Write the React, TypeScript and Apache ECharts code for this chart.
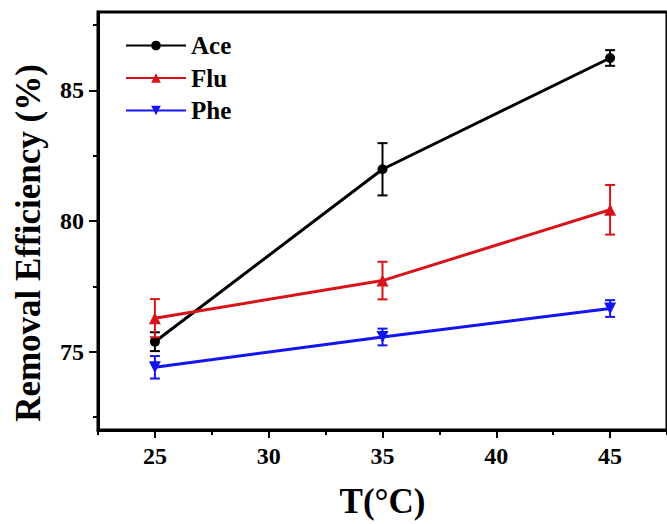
import React, { useEffect, useRef } from "react";
import * as echarts from "echarts";

const temps = [25, 35, 45];
const seriesNames = ["Ace", "Flu", "Phe"];
const aceValues = [75.38, 81.98, 86.24];
const aceErrors = [0.36, 1.0, 0.3];
const fluValues = [76.28, 77.72, 80.43];
const fluErrors = [0.73, 0.72, 0.95];
const pheValues = [74.4, 75.56, 76.65];
const pheErrors = [0.43, 0.32, 0.32];
const xMajorTicks = [25, 30, 35, 40, 45];
const xMinorTicks = [22.5, 27.5, 32.5, 37.5, 42.5, 47.5];
const yMajorTicks = [75, 80, 85];
const yMinorTicks = [72.5, 77.5, 82.5, 87.5];

const colors = ["#000000", "#d7141b", "#1414f0"];
const FONT = "'Liberation Serif', 'Times New Roman', serif";

export default function App() {
  const ref = useRef<HTMLDivElement>(null);
  useEffect(() => {
    if (!ref.current) return;
    const chart = echarts.init(ref.current, null, { renderer: "svg" });
    const values = [aceValues, fluValues, pheValues];
    const errors = [aceErrors, fluErrors, pheErrors];
    const symbols = ["circle", "triangle", "triangle"];
    const rotates = [0, 0, 180];
    const sizes = [10, 12, 12];

    const lineSeries = seriesNames.map((name, i) => ({
      name,
      type: "line",
      xAxisIndex: 0,
      yAxisIndex: 0,
      data: temps.map((t, j) => [t, values[i][j]]),
      symbol: symbols[i],
      symbolRotate: rotates[i],
      symbolSize: sizes[i],
      lineStyle: { color: colors[i], width: 3 },
      itemStyle: { color: colors[i] },
      z: 3,
    }));

    const errSeries = seriesNames.map((name, i) => ({
      name: name + " error",
      type: "custom",
      xAxisIndex: 0,
      yAxisIndex: 0,
      data: temps.map((t, j) => [t, values[i][j] - errors[i][j], values[i][j] + errors[i][j]]),
      encode: { x: 0, y: [1, 2] },
      z: 4,
      renderItem: (params: any, api: any) => {
        const x = api.value(0);
        const lo = api.coord([x, api.value(1)]);
        const hi = api.coord([x, api.value(2)]);
        const hw = 5;
        const style = { stroke: colors[i], lineWidth: 2, fill: "none" };
        return {
          type: "group",
          children: [
            { type: "line", shape: { x1: hi[0], y1: hi[1], x2: lo[0], y2: lo[1] }, style },
            { type: "line", shape: { x1: hi[0] - hw, y1: hi[1], x2: hi[0] + hw, y2: hi[1] }, style },
            { type: "line", shape: { x1: lo[0] - hw, y1: lo[1], x2: lo[0] + hw, y2: lo[1] }, style },
          ],
        };
      },
    }));

    const labelStyle = { fontFamily: FONT, fontWeight: "bold", fontSize: 24, color: "#000" };

    chart.setOption({
      animation: false,
      backgroundColor: "#ffffff",
      grid: {
        left: 98,
        top: 12,
        right: -2,
        bottom: 86,
        show: true,
        borderColor: "#000",
        borderWidth: 3,
        containLabel: false,
      },
      legend: {
        data: seriesNames,
        orient: "vertical",
        left: 125,
        top: 33,
        padding: 0,
        itemWidth: 60,
        itemHeight: 12,
        itemGap: 7.5,
        textStyle: { fontFamily: FONT, fontWeight: "bold", fontSize: 25, color: "#000", lineHeight: 24 },
      },
      xAxis: [
        {
          type: "value",
          min: 22.5,
          max: 47.5,
          interval: 2.5,
          name: "T(°C)",
          nameLocation: "middle",
          nameGap: 54,
          nameTextStyle: { fontFamily: FONT, fontWeight: "bold", fontSize: 35, color: "#000" },
          axisLine: { show: true, lineStyle: { color: "#000", width: 3 } },
          axisTick: { show: true, length: 8, customValues: xMajorTicks, lineStyle: { color: "#000", width: 2 } },
          axisLabel: { ...labelStyle, margin: 14, customValues: xMajorTicks },
          splitLine: { show: false },
        },
        {
          type: "value",
          min: 22.5,
          max: 47.5,
          interval: 2.5,
          position: "bottom",
          axisLine: { show: false },
          axisTick: { show: true, length: 5, customValues: xMinorTicks, lineStyle: { color: "#000", width: 2 } },
          axisLabel: { show: false },
          splitLine: { show: false },
        },
      ],
      yAxis: [
        {
          type: "value",
          min: 72,
          max: 88,
          interval: 1,
          axisLine: { show: true, lineStyle: { color: "#000", width: 3 } },
          axisTick: { show: true, length: 9, customValues: yMajorTicks, lineStyle: { color: "#000", width: 2 } },
          axisLabel: { ...labelStyle, margin: 14, customValues: yMajorTicks },
          splitLine: { show: false },
        },
        {
          type: "value",
          min: 72,
          max: 88,
          interval: 1,
          position: "left",
          axisLine: { show: false },
          axisTick: { show: true, length: 5, customValues: yMinorTicks, lineStyle: { color: "#000", width: 2 } },
          axisLabel: { show: false },
          splitLine: { show: false },
        },
      ],
      graphic: [
        {
          type: "text",
          x: 28,
          y: 243,
          rotation: Math.PI / 2,
          style: {
            text: "Removal Efficiency (%)",
            fontFamily: FONT,
            fontWeight: "bold",
            fontSize: 35,
            fill: "#000",
            align: "center",
            verticalAlign: "middle",
          },
        },
      ],
      series: [...lineSeries, ...errSeries],
    });
    return () => chart.dispose();
  }, []);
  return (
    <div
      ref={ref}
      style={{ position: "fixed", left: 0, top: 0, width: 667, height: 524, background: "#fff" }}
    />
  );
}
